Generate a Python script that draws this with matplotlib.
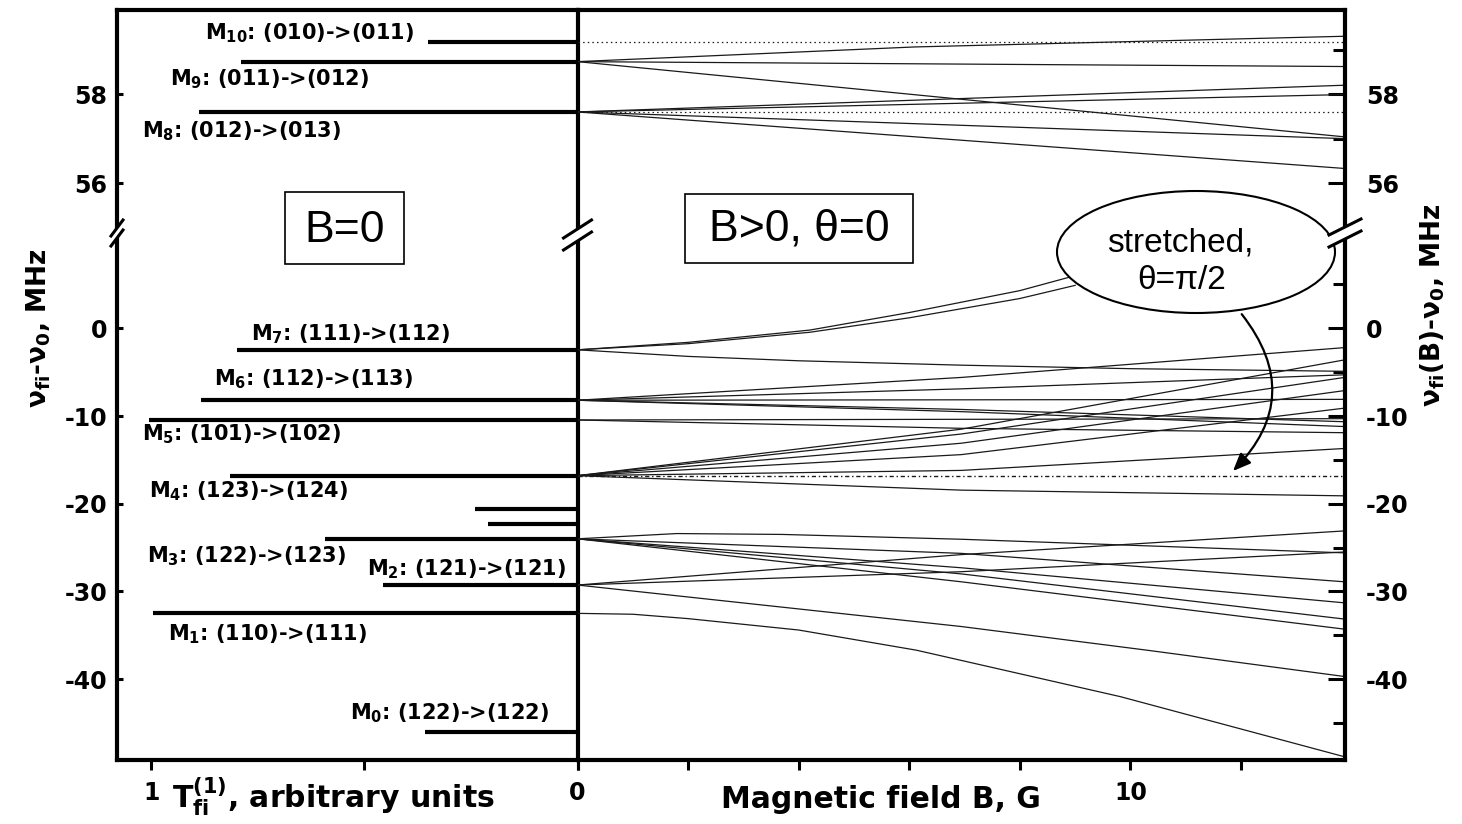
import matplotlib.pyplot as plt
from matplotlib.patches import Ellipse, Rectangle, FancyArrowPatch, Polygon
from matplotlib.lines import Line2D

plt.rcParams['font.family'] = ['DejaVu Sans']
plt.rcParams['font.weight'] = 'bold'
plt.rcParams['mathtext.fontset'] = 'dejavusans'
plt.rcParams['axes.unicode_minus'] = False

# ---- B = 0: transition frequencies (MHz) and strengths T(1)_fi (arb. units)
bar_levels = [59.18, 58.73, 57.60, -2.45, -8.2, -10.45, -16.8,
              -20.6, -22.35, -24.0, -29.27, -32.5, -46.0]
bar_T = [0.351, 0.789, 0.887, 0.798, 0.883, 1.005, 0.815,
         0.241, 0.210, 0.592, 0.456, 0.995, 0.358]

label_text = ['M$_{\\mathbf{10}}$: (010)->(011)', 'M$_{\\mathbf{9}}$: (011)->(012)',
              'M$_{\\mathbf{8}}$: (012)->(013)', 'M$_{\\mathbf{7}}$: (111)->(112)',
              'M$_{\\mathbf{6}}$: (112)->(113)', 'M$_{\\mathbf{5}}$: (101)->(102)',
              'M$_{\\mathbf{4}}$: (123)->(124)', 'M$_{\\mathbf{3}}$: (122)->(123)',
              'M$_{\\mathbf{2}}$: (121)->(121)', 'M$_{\\mathbf{1}}$: (110)->(111)',
              'M$_{\\mathbf{0}}$: (122)->(122)']
# where the labels sit (T, MHz)
label_pos = [(0.873, 59.22), (0.955, 58.19), (1.021, 57.02), (0.766, -1.39),
             (0.852, -6.52), (1.021, -12.79), (1.005, -19.29), (1.009, -26.7),
             (0.494, -28.19), (0.960, -35.6), (0.533, -44.6)]

# ---- B > 0: frequencies vs magnetic field (G)
upper_B = [[0, 6.1, 13.87], [0, 13.87], [0, 13.87], [0, 13.87],
           [0, 13.87], [0, 13.87], [0, 13.87]]
upper_nu = [[58.73, 59.06, 59.30], [58.73, 58.62], [58.73, 57.04], [57.60, 58.20],
            [57.60, 57.99], [57.60, 57.00], [57.60, 56.33]]

lower_B = [[0, 2, 4.2, 6, 8, 9.17],
           [0, 2, 4.2, 6, 8, 9.0],
           [0, 2, 4, 6.94, 10, 13.87],
           [0, 6.94, 13.87], [0, 6.94, 13.87], [0, 13.87],
           [0, 6.94, 13.87], [0, 6.94, 13.87],
           [0, 13.87], [0, 6.94, 13.87],
           [0, 6.94, 13.87], [0, 6.94, 13.87], [0, 6.94, 13.87],
           [0, 6.94, 13.87], [0, 6.94, 13.87], [0, 6.94, 13.87],
           [0, 1.8, 3.7, 6.94, 13.87],
           [0, 6.94, 13.87], [0, 6.94, 13.87], [0, 6.94, 13.87], [0, 6.94, 13.87],
           [0, 6.94, 13.87], [0, 6.94, 13.87], [0, 6.94, 10.3, 13.87],
           [0, 1, 2, 4, 6.13, 9.82, 13.87]]
lower_nu = [[-2.45, -1.6, -0.2, 1.8, 4.3, 6.3],
            [-2.45, -1.75, -0.45, 1.2, 3.4, 4.9],
            [-2.45, -3.2, -3.7, -4.2, -4.6, -4.9],
            [-8.2, -5.6, -2.2], [-8.2, -6.9, -5.3], [-8.2, -8.1],
            [-8.2, -9.25, -10.65], [-8.2, -9.5, -11.2],
            [-10.45, -10.3], [-10.45, -11.4, -11.9],
            [-16.8, -11.5, -3.6], [-16.8, -12.05, -5.6], [-16.8, -13.1, -7.1],
            [-16.8, -14.4, -9.1], [-16.8, -16.2, -13.7], [-16.8, -18.45, -19.1],
            [-24.0, -23.4, -23.5, -24.05, -25.6],
            [-24.0, -25.66, -28.9], [-24.0, -27.3, -31.3], [-24.0, -28.0, -33.15],
            [-24.0, -28.9, -34.3],
            [-29.27, -25.8, -23.1], [-29.27, -27.75, -25.5], [-29.27, -34.0, -36.7, -39.7],
            [-32.5, -32.6, -33.1, -34.4, -36.7, -42.0, -48.85]]

# theta = pi/2 (stretched) levels drawn as broken lines
dotted_levels = [59.18, 57.60]
dashdot_levels = [-16.8]

# ---------------------------------------------------------------- layout
W, H = 1462, 824
fig = plt.figure(figsize=(W / 100, H / 100), dpi=100)


def fx(px):
    return px / W


def fy(py):
    return 1 - py / H


X0, XM, X1 = 117, 577.5, 1345
YT, YB, Y1 = 10, 233, 760
ax_tl = fig.add_axes([fx(X0), fy(YB), fx(XM) - fx(X0), fy(YT) - fy(YB)])
ax_tr = fig.add_axes([fx(XM), fy(YB), fx(X1) - fx(XM), fy(YT) - fy(YB)])
ax_bl = fig.add_axes([fx(X0), fy(Y1), fx(XM) - fx(X0), fy(YB) - fy(Y1)])
ax_br = fig.add_axes([fx(XM), fy(Y1), fx(X1) - fx(XM), fy(YB) - fy(Y1)])

for ax in (ax_tl, ax_bl):
    ax.set_xlim(1.080, 0)
for ax in (ax_tr, ax_br):
    ax.set_xlim(0, 13.88)
for ax in (ax_tl, ax_tr):
    ax.set_ylim(54.88, 59.89)
for ax in (ax_bl, ax_br):
    ax.set_ylim(-49.22, 10.87)

SPW = 3.0
for ax in (ax_tl, ax_tr, ax_bl, ax_br):
    ax.set_facecolor('none')
    for s in ax.spines.values():
        s.set_linewidth(SPW)
        s.set_zorder(5)
ax_tl.spines['bottom'].set_visible(False)
ax_tr.spines['bottom'].set_visible(False)
ax_tr.spines['left'].set_visible(False)
ax_bl.spines['top'].set_visible(False)
ax_br.spines['top'].set_visible(False)
ax_br.spines['left'].set_visible(False)

# left y ticks
for ax, ticks in ((ax_tl, [56, 58]), (ax_bl, [0, -10, -20, -30, -40])):
    ax.set_yticks(ticks)
    ax.tick_params(axis='y', direction='in', length=4.5, width=2.2,
                   labelsize=17, pad=7)
    ax.tick_params(axis='x', bottom=False, labelbottom=False)

# right y ticks
for ax, ticks, minor in ((ax_tr, [56, 58], [57, 59]),
                         (ax_br, [0, -10, -20, -30, -40], [5, -5, -15, -25, -35, -45])):
    ax.yaxis.tick_right()
    ax.set_yticks(ticks)
    ax.set_yticks(minor, minor=True)
    ax.tick_params(axis='y', which='major', direction='in', length=12, width=2.2,
                   labelsize=17, pad=15)
    ax.tick_params(axis='y', which='minor', direction='in', length=9, width=2.2)
    ax.tick_params(axis='x', bottom=False, labelbottom=False)

# x ticks
ax_bl.set_xticks([1, 0.5, 0])
ax_bl.set_xticklabels(['1', '', '0'])
ax_bl.tick_params(axis='x', bottom=True, labelbottom=True, direction='out',
                  length=7, width=2.2, labelsize=17, pad=8)
ax_br.set_xticks([0, 2, 4, 6, 8, 10, 12])
ax_br.set_xticklabels(['', '', '', '', '', '10', ''])
ax_br.tick_params(axis='x', bottom=True, labelbottom=True, direction='out',
                  length=7, width=2.2, labelsize=17, pad=8)

# ---------------------------------------------------------------- data
for lev, t in zip(bar_levels, bar_T):
    ax = ax_tl if lev > 30 else ax_bl
    ax.hlines(lev, t, 0, color='black', lw=3.0, capstyle='butt')

for txt, (t, nu) in zip(label_text, label_pos):
    ax = ax_tl if nu > 30 else ax_bl
    ax.text(t, nu, txt, ha='left', va='baseline', fontsize=15)

for bb, nn in zip(upper_B, upper_nu):
    ax_tr.plot(bb, nn, color='#1a1a1a', lw=0.9)
for bb, nn in zip(lower_B, lower_nu):
    ax_br.plot(bb, nn, color='#1a1a1a', lw=0.9)

for lev in dotted_levels:
    ax_tr.axhline(lev, color='#1a1a1a', lw=0.9, ls=(0, (1.2, 2.5)))
for lev in dashdot_levels:
    ax_br.axhline(lev, color='#1a1a1a', lw=1.0, ls=(0, (3, 2, 1, 2)))

# ---------------------------------------------------------------- axis labels
fig.text(fx(39), fy(328), 'ν$_{\\mathbf{fi}}$-ν$_{\\mathbf{0}}$, MHz', rotation=90,
         ha='center', va='center', fontsize=19)
fig.text(fx(1433), fy(305), 'ν$_{\\mathbf{fi}}$(B)-ν$_{\\mathbf{0}}$, MHz', rotation=90,
         ha='center', va='center', fontsize=19)
fig.text(fx(172), fy(808), 'T$^{\\mathbf{(1)}}_{\\mathbf{fi}}$, arbitrary units',
         ha='left', va='baseline', fontsize=21.5)
fig.text(fx(881), fy(808), 'Magnetic field B, G', ha='center', va='baseline',
         fontsize=21.5)

# ---------------------------------------------------------------- annotations
for (l, t, r, b), txt, xc, base in (((285, 192, 404, 264), 'B=0', 344.5, 242),
                                     ((685, 194, 913, 263), 'B>0, θ=0', 799, 241)):
    fig.add_artist(Rectangle((fx(l), fy(b)), fx(r) - fx(l), fy(t) - fy(b),
                             transform=fig.transFigure, fill=False, lw=1.2,
                             color='black'))
    fig.text(fx(xc), fy(base), txt, ha='center', va='baseline', fontsize=32,
             family='Liberation Sans', weight='normal')

fig.add_artist(Ellipse((fx(1196), fy(252)), fx(278), 122 / H,
                       transform=fig.transFigure, facecolor='white',
                       edgecolor='black', lw=1.5))
fig.text(fx(1180), fy(252), 'stretched,', ha='center', va='baseline', fontsize=24,
         family='Liberation Sans', weight='normal')
fig.text(fx(1182), fy(289), 'θ=π/2', ha='center', va='baseline', fontsize=24,
         family='Liberation Sans', weight='normal')
fig.add_artist(FancyArrowPatch((fx(1240), fy(312)), (fx(1231), fy(473)),
                               transform=fig.transFigure,
                               connectionstyle='arc3,rad=-0.45',
                               arrowstyle='-|>,head_length=0.6,head_width=0.25',
                               mutation_scale=18, lw=1.6, color='black'))

# axis-break marks
for xc, yc, w, h, g in ((117, 233, 6, 8, 5), (577.5, 235, 14, 9, 6), (1345, 233, 16, 8, 6)):
    fig.add_artist(Polygon([(fx(xc - w), fy(yc + h - g)), (fx(xc + w), fy(yc - h - g)),
                            (fx(xc + w), fy(yc - h + g)), (fx(xc - w), fy(yc + h + g))],
                           closed=True, transform=fig.transFigure,
                           facecolor='white', edgecolor='none'))
    for s in (-g, g):
        fig.add_artist(Line2D([fx(xc - w), fx(xc + w)], [fy(yc + h + s), fy(yc - h + s)],
                              transform=fig.transFigure, color='black', lw=2.2))

fig.savefig('out.png', dpi=100)
